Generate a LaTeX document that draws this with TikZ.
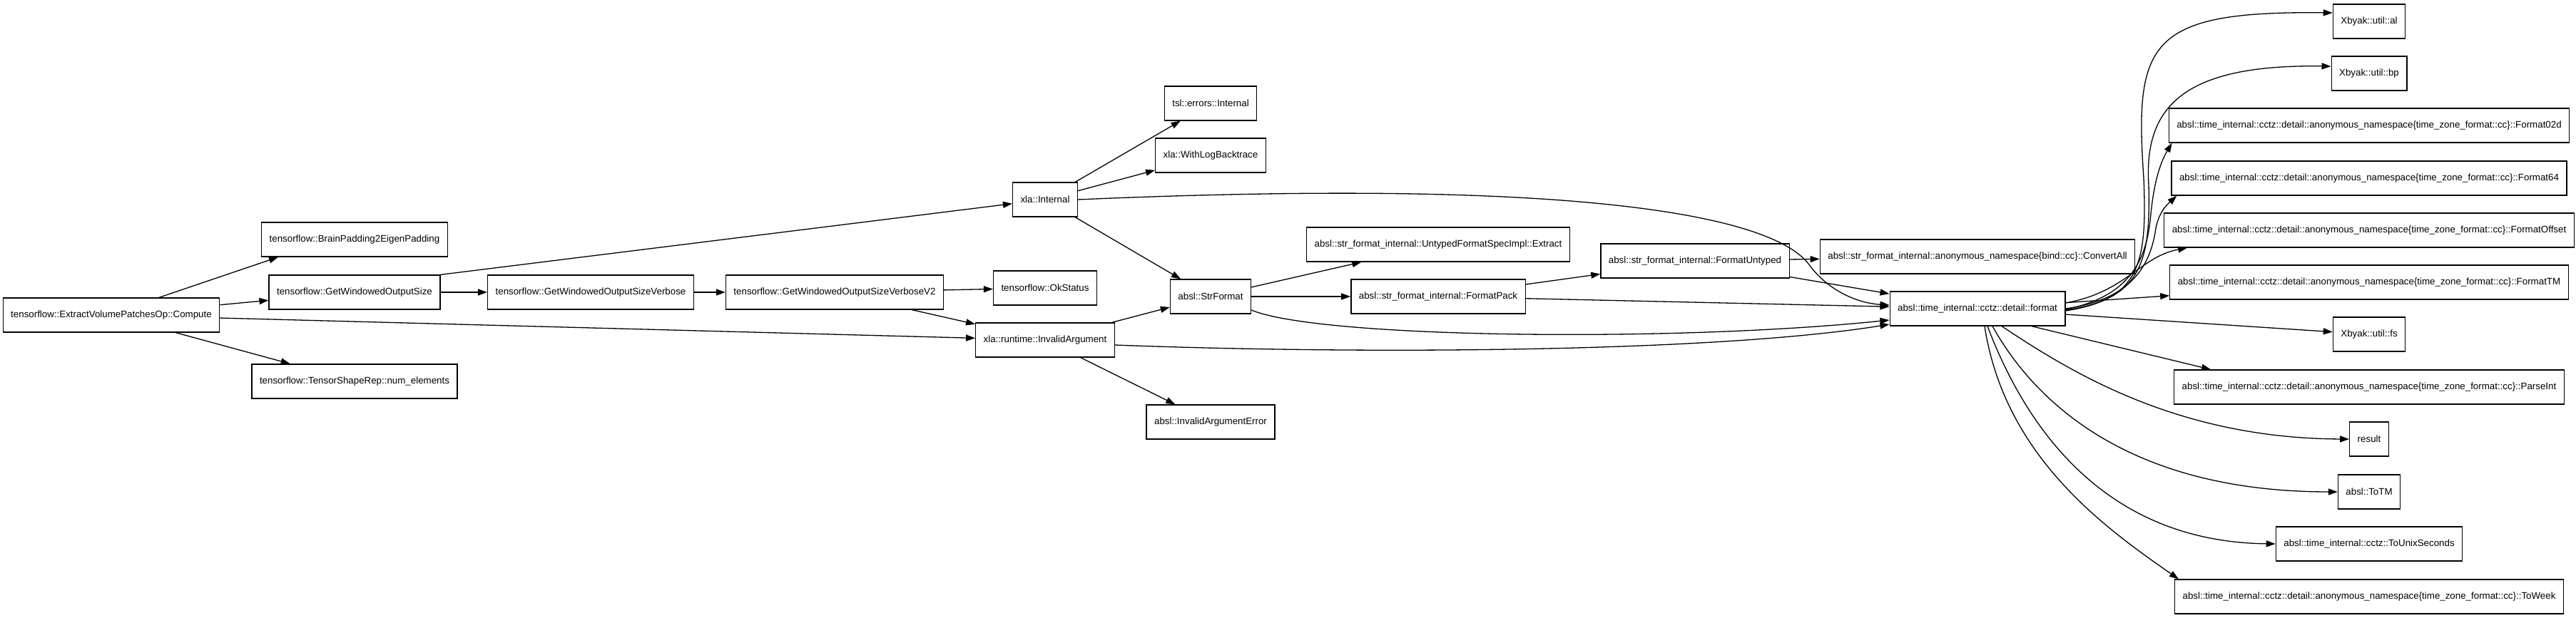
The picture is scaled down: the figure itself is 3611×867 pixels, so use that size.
\documentclass[tikz,border=0pt]{standalone}
\usepackage{fontspec}
\setmainfont{Liberation Sans}
\usetikzlibrary{arrows.meta}
\newcommand{\TzAnon}{absl::time\_internal::cctz::detail::anonymous\_namespace\{time\_zone\_format::cc\}::}
\tikzstyle{Node}=[rectangle,draw=black,line width=1.3pt,minimum height=48pt,
inner xsep=11pt,inner ysep=0pt,font=\fontsize{13.33}{16}\selectfont]
\tikzstyle{Edge}=[draw=black,line width=1.3pt,-{Triangle[length=13pt,width=9pt]}]
\begin{document}
\begin{tikzpicture}[x=1pt,y=-1pt]
            \fill[white](0,0)rectangle(3611,867);
            \useasboundingbox(0,0)rectangle(3611,867);
            \node[Node](compute)at(156,442){tensorflow::ExtractVolumePatchesOp::Compute};
            \node[Node](brain)at(497,336){tensorflow::BrainPadding2EigenPadding};
            \node[Node](gwos)at(497,410){tensorflow::GetWindowedOutputSize};
            \node[Node](shaperep)at(497,535){tensorflow::TensorShapeRep::num\_elements};
            \node[Node](verbose)at(828,410){tensorflow::GetWindowedOutputSizeVerbose};
            \node[Node](verbosev2)at(1170,410){tensorflow::GetWindowedOutputSizeVerboseV2};
            \node[Node](okstatus)at(1465,404){tensorflow::OkStatus};
            \node[Node](invalidarg)at(1465,477){xla::runtime::InvalidArgument};
            \node[Node](xlainternal)at(1465,280){xla::Internal};
            \node[Node](tslinternal)at(1697,145){tsl::errors::Internal};
            \node[Node](backtrace)at(1697,218){xla::WithLogBacktrace};
            \node[Node](strformat)at(1697,416){absl::StrFormat};
            \node[Node](argerror)at(1697,592){absl::InvalidArgumentError};
            \node[Node](extract)at(2016,343)
                {absl::str\_format\_internal::UntypedFormatSpecImpl::Extract};
            \node[Node](formatpack)at(2016,416){absl::str\_format\_internal::FormatPack};
            \node[Node](untyped)at(2376,366){absl::str\_format\_internal::FormatUntyped};
            \node[Node](convertall)at(2772,360)
                {absl::str\_format\_internal::anonymous\_namespace\{bind::cc\}::ConvertAll};
            \node[Node](format)at(2772,433){absl::time\_internal::cctz::detail::format};
            \node[Node](al)at(3321,30){Xbyak::util::al};
            \node[Node](bp)at(3321,103){Xbyak::util::bp};
            \node[Node](f02d)at(3321,176){\TzAnon Format02d};
            \node[Node](f64)at(3321,250){\TzAnon Format64};
            \node[Node](foffset)at(3321,323){\TzAnon FormatOffset};
            \node[Node](ftm)at(3321,396){\TzAnon FormatTM};
            \node[Node](fs)at(3321,469){Xbyak::util::fs};
            \node[Node](parseint)at(3321,543){\TzAnon ParseInt};
            \node[Node](result)at(3321,616){result};
            \node[Node](totm)at(3321,690){absl::ToTM};
            \node[Node](tounix)at(3321,763){absl::time\_internal::cctz::ToUnixSeconds};
            \node[Node](toweek)at(3321,837){\TzAnon ToWeek};
            \draw[Edge]([xshift=67pt]compute.north)--([xshift=-107pt]brain.south);
            \draw[Edge](compute)--(gwos);
            \draw[Edge](compute)--(shaperep);
            \draw[Edge](compute)--(invalidarg);
            \draw[Edge](gwos)--(verbose);
            \draw[Edge](gwos.north east)--(xlainternal);
            \draw[Edge](verbose)--(verbosev2);
            \draw[Edge](verbosev2)--(okstatus);
            \draw[Edge](verbosev2)--(invalidarg);
            \draw[Edge](xlainternal)--(tslinternal);
            \draw[Edge](xlainternal)--(backtrace);
            \draw[Edge](xlainternal)--(strformat);
            \draw[Edge](xlainternal.east) .. controls (2200,250) and (2480,300) .. (2535,370)
                .. controls (2560,405) and (2600,425) .. ([yshift=5pt]format.west);
            \draw[Edge](invalidarg)--(strformat);
            \draw[Edge](invalidarg)--(argerror);
            \draw[Edge]([yshift=-7pt]invalidarg.east) .. controls (1900,497) and (2400,495)
                .. ([yshift=-22pt]format.west);
            \draw[Edge](strformat)--(extract);
            \draw[Edge](strformat)--(formatpack);
            \draw[Edge]([yshift=-19pt]strformat.east) .. controls (1850,475) and (2350,480)
                .. ([yshift=-16pt]format.west);
            \draw[Edge](formatpack)--(untyped);
            \draw[Edge](formatpack)--(format);
            \draw[Edge](untyped)--(convertall);
            \draw[Edge](untyped)--(format);
            \draw[Edge]([yshift=-3pt]format.east) .. controls (3000,420) and (3010,370) .. (3005,250)
                .. controls (2992,60) and (3010,15) .. ([yshift=12pt]al.west);
            \draw[Edge]([yshift=-2pt]format.east) .. controls (3000,420) and (3015,370) .. (3012,260)
                .. controls (3005,150) and (3060,90) .. ([yshift=10pt]bp.west);
            \draw[Edge]([yshift=-1pt]format.east) .. controls (2990,415) and (3010,360) .. (3015,300)
                .. controls (3020,250) and (3030,225) .. ([xshift=5pt]f02d.south west);
            \draw[Edge](format.east) .. controls (2990,420) and (3015,370) .. (3022,320)
                .. controls (3027,295) and (3040,285) .. ([xshift=8pt]f64.south west);
            \draw[Edge]([yshift=8pt]format.east) .. controls (2980,410) and (3000,360)
                .. ([xshift=33pt]foffset.south west);
            \draw[Edge](format)--(ftm);
            \draw[Edge](format)--(fs);
            \draw[Edge]([xshift=76pt]format.south)--([xshift=52pt]parseint.north west);
            \draw[Edge]([xshift=34pt]format.south) .. controls (2900,520) and (3050,615) .. (result.west);
            \draw[Edge]([xshift=21pt]format.south) .. controls (2850,560) and (2980,690) .. (totm.west);
            \draw[Edge]([xshift=14pt]format.south) .. controls (2840,600) and (2950,760) .. (tounix.west);
            \draw[Edge]([xshift=10pt]format.south) .. controls (2810,640) and (2950,740)
                .. ([xshift=6pt]toweek.north west);
        \end{tikzpicture}
\end{document}
